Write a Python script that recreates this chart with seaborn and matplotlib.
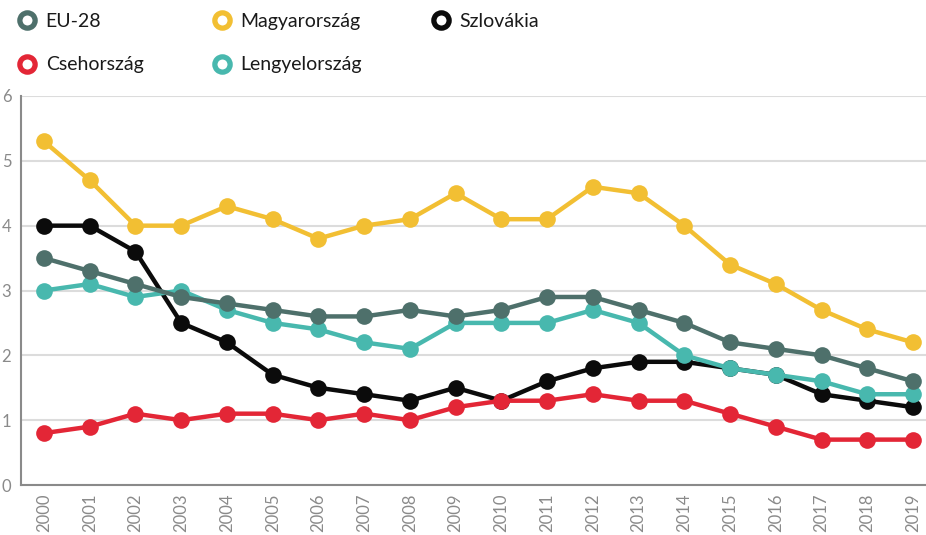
import matplotlib.pyplot as plt
import seaborn as sns
import pandas as pd
from matplotlib.lines import Line2D

years = list(range(2000, 2020))
eu28 = [3.5, 3.3, 3.1, 2.9, 2.8, 2.7, 2.6, 2.6, 2.7, 2.6, 2.7, 2.9, 2.9, 2.7, 2.5, 2.2, 2.1, 2.0, 1.8, 1.6]
magyar = [5.3, 4.7, 4.0, 4.0, 4.3, 4.1, 3.8, 4.0, 4.1, 4.5, 4.1, 4.1, 4.6, 4.5, 4.0, 3.4, 3.1, 2.7, 2.4, 2.2]
szlovak = [4.0, 4.0, 3.6, 2.5, 2.2, 1.7, 1.5, 1.4, 1.3, 1.5, 1.3, 1.6, 1.8, 1.9, 1.9, 1.8, 1.7, 1.4, 1.3, 1.2]
cseh = [0.8, 0.9, 1.1, 1.0, 1.1, 1.1, 1.0, 1.1, 1.0, 1.2, 1.3, 1.3, 1.4, 1.3, 1.3, 1.1, 0.9, 0.7, 0.7, 0.7]
lengyel = [3.0, 3.1, 2.9, 3.0, 2.7, 2.5, 2.4, 2.2, 2.1, 2.5, 2.5, 2.5, 2.7, 2.5, 2.0, 1.8, 1.7, 1.6, 1.4, 1.4]

series = {
    "EU-28": eu28,
    "Magyarország": magyar,
    "Szlovákia": szlovak,
    "Csehország": cseh,
    "Lengyelország": lengyel,
}
colors = {
    "EU-28": "#4e706b",
    "Magyarország": "#f2bf33",
    "Szlovákia": "#0b0b0b",
    "Csehország": "#e32636",
    "Lengyelország": "#48b8ae",
}
# drawing order (bottom to top)
draw_order = ["Szlovákia", "Lengyelország", "EU-28", "Csehország", "Magyarország"]

rows = []
for name, vals in series.items():
    for y, v in zip(years, vals):
        rows.append([name, y, v])
df = pd.DataFrame(rows, columns=["orszag", "ev", "ertek"])

sns.set_style("white")
plt.rcParams['font.family'] = ['Lato', 'DejaVu Sans']

fig = plt.figure(figsize=(9.26, 5.35), dpi=100)
ax = fig.add_axes([21 / 926, 1 - 485 / 535, 1 - 21 / 926, (485 - 96) / 535])

for z, name in enumerate(draw_order):
    sub = df[df["orszag"] == name]
    sns.lineplot(data=sub, x="ev", y="ertek", ax=ax, color=colors[name],
                 linewidth=3.2, marker="o", markersize=12, markeredgewidth=0,
                 zorder=3 + z, legend=False)

ax.set_xlim(1999.497, 2019.284)
ax.set_ylim(0, 6)
ax.set_yticks(range(0, 7))
ax.set_xticks(years)
ax.set_xticklabels([str(y) for y in years], rotation=90)
ax.set_xlabel("")
ax.set_ylabel("")
ax.grid(axis="y", color="#dcdcdc", linewidth=1.5)
ax.set_axisbelow(True)
for s in ["top", "right"]:
    ax.spines[s].set_visible(False)
for s in ["left", "bottom"]:
    ax.spines[s].set_color("#8a8a8a")
    ax.spines[s].set_linewidth(1.5)
ax.tick_params(axis="both", length=0, labelsize=12, labelcolor="#8a8a8a", pad=6)
ax.tick_params(axis="y", pad=7)

legend_order = ["EU-28", "Csehország", "Magyarország", "Lengyelország", "Szlovákia"]
handles = [Line2D([], [], linestyle="none", marker="o", markersize=11,
                  markerfacecolor="white", markeredgecolor=colors[n],
                  markeredgewidth=3.8) for n in legend_order]
fig.legend(handles, legend_order, ncol=3, loc="upper left",
           bbox_to_anchor=(0.0, 1.008), frameon=False, fontsize=14,
           handletextpad=0.45, columnspacing=3.55, labelspacing=1.35,
           handlelength=1.0, labelcolor="#1a1a1a")

fig.savefig("out.png", dpi=100)
